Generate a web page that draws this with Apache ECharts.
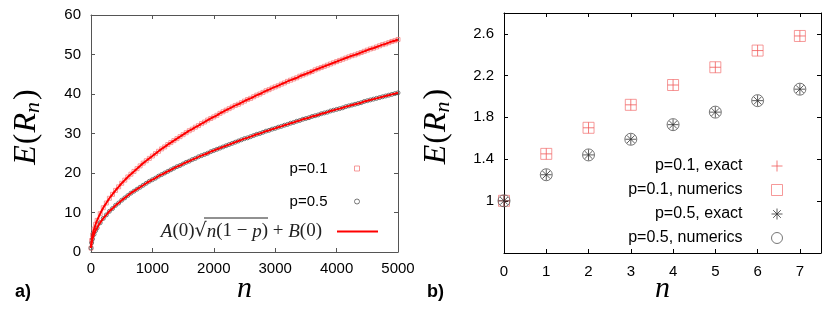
<!DOCTYPE html>
<html><head><meta charset="utf-8">
<script src="https://cdn.jsdelivr.net/npm/echarts@6/dist/echarts.min.js"></script>
<style>html,body{margin:0;padding:0;background:#fff}#c{width:831px;height:318px}</style>
</head><body><div id="c"></div>
<script>
// ---- panel a) data ----
const nVals = [0,10,25,50,75,100,150,200,250,300,350,400,450,500,550,600,650,700,750,800,850,900,950,1000,
1050,1100,1150,1200,1250,1300,1350,1400,1450,1500,1550,1600,1650,1700,1750,1800,1850,1900,1950,2000,
2050,2100,2150,2200,2250,2300,2350,2400,2450,2500,2550,2600,2650,2700,2750,2800,2850,2900,2950,3000,
3050,3100,3150,3200,3250,3300,3350,3400,3450,3500,3550,3600,3650,3700,3750,3800,3850,3900,3950,4000,
4050,4100,4150,4200,4250,4300,4350,4400,4450,4500,4550,4600,4650,4700,4750,4800,4850,4900,4950,5000];
const p01Vals = [1,2.9,4.3,5.8,7.0,8.0,9.7,11.2,12.4,13.6,14.6,15.6,16.5,17.4,18.2,19.0,19.7,20.4,21.1,21.8,22.5,23.1,23.7,24.3,
24.9,25.5,26.1,26.6,27.2,27.7,28.2,28.7,29.2,29.7,30.2,30.7,31.1,31.6,32.0,32.5,32.9,33.4,33.8,34.2,
34.6,35.1,35.5,35.9,36.3,36.7,37.1,37.4,37.8,38.2,38.6,38.9,39.3,39.7,40.0,40.4,40.8,41.1,41.5,41.8,
42.1,42.5,42.8,43.2,43.5,43.8,44.1,44.5,44.8,45.1,45.4,45.7,46.1,46.4,46.7,47.0,47.3,47.6,47.9,48.2,
48.5,48.8,49.1,49.4,49.7,49.9,50.2,50.5,50.8,51.1,51.4,51.6,51.9,52.2,52.5,52.7,53.0,53.3,53.5,53.8];
const p05Vals = [1,2.3,3.3,4.5,5.4,6.1,7.4,8.5,9.4,10.3,11.0,11.8,12.4,13.1,13.7,14.3,14.9,15.4,15.9,16.4,16.9,17.4,17.9,18.3,
18.7,19.2,19.6,20.0,20.4,20.8,21.2,21.6,21.9,22.3,22.7,23.0,23.4,23.7,24.1,24.4,24.7,25.0,25.4,25.7,
26.0,26.3,26.6,26.9,27.2,27.5,27.8,28.1,28.4,28.7,28.9,29.2,29.5,29.8,30.0,30.3,30.6,30.8,31.1,31.3,
31.6,31.8,32.1,32.3,32.6,32.8,33.1,33.3,33.6,33.8,34.0,34.3,34.5,34.7,35.0,35.2,35.4,35.7,35.9,36.1,
36.3,36.5,36.8,37.0,37.2,37.4,37.6,37.8,38.1,38.3,38.5,38.7,38.9,39.1,39.3,39.5,39.7,39.9,40.1,40.3];

// ---- panel b) data ----
const nSmall = [0,1,2,3,4,5,6,7];
const p01Exact = [1.0,1.45,1.70,1.92,2.11,2.28,2.44,2.58];
const p01Num   = [1.0,1.45,1.70,1.92,2.11,2.28,2.44,2.58];
const p05Exact = [1.0,1.25,1.44,1.59,1.73,1.85,1.96,2.07];
const p05Num   = [1.0,1.25,1.44,1.59,1.73,1.85,1.96,2.07];
const bYTicks = [1,1.4,1.8,2.2,2.6];
const bXTicks = [0,1,2,3,4,5,6,7];

const fitName = 'A(0)sqrt(n(1-p))+B(0)';
const pairs = (xs, ys) => xs.map((x, i) => [x, ys[i]]);

const SQ = 'path://M0,0L10,0L10,10L0,10Z';
const PLUS = 'path://M5,0L5,10M0,5L10,5';
const STAR = 'path://M5,0L5,10M0,5L10,5M1.5,1.5L8.5,8.5M8.5,1.5L1.5,8.5';
const SANS = 'Liberation Sans';
const SERIF = 'Liberation Serif';

const redSoft = '#f47f7f';
const redPlus = '#f05a5a';

function xAx(grid, min, max, extra, mirror, color) {
  return Object.assign({
    gridIndex: grid, type: 'value', min: min, max: max,
    position: mirror ? 'top' : 'bottom',
    axisLine: { show: true, onZero: false, lineStyle: { color: color, width: 1 } },
    axisTick: { show: true, inside: true, length: 4, lineStyle: { color: color } },
    axisLabel: { show: !mirror, color: '#000', fontFamily: SANS, fontSize: 15, margin: 9, formatter: v => String(v) },
    splitLine: { show: false }
  }, extra || {});
}
function yAx(grid, min, max, extra, mirror, color) {
  return Object.assign({
    gridIndex: grid, type: 'value', min: min, max: max,
    position: mirror ? 'right' : 'left',
    axisLine: { show: true, onZero: false, lineStyle: { color: color, width: 1 } },
    axisTick: { show: true, inside: true, length: 4, lineStyle: { color: color } },
    axisLabel: { show: !mirror, color: '#000', fontFamily: SANS, fontSize: 15, margin: 10, formatter: v => String(v) },
    splitLine: { show: false }
  }, extra || {});
}

const nameStyleX = { fontFamily: SERIF, fontStyle: 'italic', fontSize: 30, color: '#000' };
const nameStyleY = {
  fontFamily: SERIF, fontSize: 32, color: '#000', padding: [0, 0, 0, 14],
  rich: {
    i: { fontFamily: SERIF, fontStyle: 'italic', fontSize: 32, color: '#000' },
    r: { fontFamily: SERIF, fontSize: 32, color: '#000', padding: [0, 1, 0, 1] },
    s: { fontFamily: SERIF, fontStyle: 'italic', fontSize: 22, color: '#000', padding: [13, 1, 0, 0] }
  }
};
const yName = '{i|E}{r|(}{i|R}{s|n}{r|)}';

const chart = echarts.init(document.getElementById('c'), null, { renderer: 'canvas' });

const option = {
  animation: false,
  backgroundColor: '#fff',
  grid: [
    { left: 91, top: 15, width: 307, height: 237 },
    { left: 504, top: 13, width: 317, height: 240 }
  ],
  xAxis: [
    xAx(0, 0, 5000, { interval: 1000, name: 'n', nameLocation: 'middle', nameGap: 22, nameMoveOverlap: false, nameTextStyle: nameStyleX }, false, '#555'),
    xAx(0, 0, 5000, { interval: 1000 }, true, '#555'),
    xAx(1, 0, 7.5, {
      name: 'n', nameLocation: 'middle', nameGap: 21, nameMoveOverlap: false, nameTextStyle: nameStyleX,
      axisLabel: { show: true, color: '#000', fontFamily: SANS, fontSize: 15, margin: 11, customValues: bXTicks },
      axisTick: { show: true, inside: true, length: 4, lineStyle: { color: '#000' }, customValues: bXTicks }
    }, false, '#000'),
    xAx(1, 0, 7.5, {
      axisTick: { show: true, inside: true, length: 4, lineStyle: { color: '#000' }, customValues: bXTicks }
    }, true, '#000')
  ],
  yAxis: [
    yAx(0, 0, 60, { interval: 10, name: yName, nameLocation: 'middle', nameGap: 47, nameTextStyle: nameStyleY }, false, '#555'),
    yAx(0, 0, 60, { interval: 10 }, true, '#555'),
    yAx(1, 0.5, 2.8, {
      name: yName, nameLocation: 'middle', nameGap: 50, nameTextStyle: nameStyleY,
      axisLabel: { show: true, color: '#000', fontFamily: SANS, fontSize: 15, margin: 10, customValues: bYTicks },
      axisTick: { show: true, inside: true, length: 4, lineStyle: { color: '#000' }, customValues: bYTicks }
    }, false, '#000'),
    yAx(1, 0.5, 2.8, {
      axisTick: { show: true, inside: true, length: 4, lineStyle: { color: '#000' }, customValues: bYTicks }
    }, true, '#000')
  ],
  legend: [
    {
      orient: 'vertical', align: 'right', right: 471, top: 161, padding: 0,
      itemWidth: 5, itemHeight: 5, itemGap: 18, selectedMode: false,
      textStyle: { fontFamily: SANS, fontSize: 15, color: '#000', padding: [0, 22, 0, 0] },
      data: [
        { name: 'p=0.1', icon: SQ, itemStyle: { color: 'rgba(0,0,0,0)', borderColor: redSoft, borderWidth: 1 } },
        { name: 'p=0.5', icon: 'circle', itemStyle: { color: 'rgba(0,0,0,0)', borderColor: '#555', borderWidth: 1 } }
      ]
    },
    {
      orient: 'vertical', align: 'right', right: 453, top: 222, padding: 0,
      itemWidth: 41, itemHeight: 2, selectedMode: false,
      formatter: () => '{i|A}(0){r|√}{i|n}(1 − {i|p}) + {i|B}(0)',
      textStyle: {
        fontFamily: SERIF, fontSize: 19, color: '#222', padding: [0, 10, 0, 0],
        rich: {
          i: { fontFamily: SERIF, fontStyle: 'italic', fontSize: 19, color: '#222' },
          r: { fontFamily: 'DejaVu Serif', fontSize: 19, color: '#222' }
        }
      },
      data: [{ name: fitName, icon: 'rect', itemStyle: { color: '#ff0000', borderWidth: 0 } }]
    },
    {
      orient: 'vertical', align: 'right', right: 48, top: 158, padding: 0,
      itemWidth: 11, itemHeight: 11, itemGap: 8, selectedMode: false,
      textStyle: { fontFamily: SANS, fontSize: 16, color: '#000', padding: [0, 24, 0, 0] },
      data: [
        { name: 'p=0.1, exact', icon: PLUS, itemStyle: { color: 'rgba(0,0,0,0)', borderColor: redPlus, borderWidth: 1 } },
        { name: 'p=0.1, numerics', icon: SQ, itemStyle: { color: 'rgba(0,0,0,0)', borderColor: redSoft, borderWidth: 1 } },
        { name: 'p=0.5, exact', icon: STAR, itemStyle: { color: 'rgba(0,0,0,0)', borderColor: '#333', borderWidth: 1 } },
        { name: 'p=0.5, numerics', icon: 'circle', itemStyle: { color: 'rgba(0,0,0,0)', borderColor: '#555', borderWidth: 1 } }
      ]
    }
  ],
  graphic: [
    { type: 'text', left: 15, top: 283, style: { text: 'a)', font: 'bold 18px "Liberation Sans"', fill: '#000' } },
    { type: 'text', left: 427, top: 283, style: { text: 'b)', font: 'bold 18px "Liberation Sans"', fill: '#000' } },
    { type: 'line', shape: { x1: 204, y1: 218, x2: 268, y2: 218 }, style: { stroke: '#222', lineWidth: 1 } }
  ],
  series: [
    {
      name: 'p=0.1', type: 'scatter', xAxisIndex: 0, yAxisIndex: 0,
      symbol: SQ, symbolSize: 4,
      itemStyle: { color: 'rgba(0,0,0,0)', borderColor: redSoft, borderWidth: 1 },
      data: pairs(nVals, p01Vals), z: 2
    },
    {
      name: 'p=0.5', type: 'scatter', xAxisIndex: 0, yAxisIndex: 0,
      symbol: 'circle', symbolSize: 4,
      itemStyle: { color: 'rgba(0,0,0,0)', borderColor: '#555', borderWidth: 1 },
      data: pairs(nVals, p05Vals), z: 2
    },
    {
      name: fitName, type: 'line', xAxisIndex: 0, yAxisIndex: 0, symbol: 'none', smooth: true,
      lineStyle: { color: '#ff0000', width: 2 }, data: pairs(nVals, p01Vals), z: 3
    },
    {
      name: fitName, type: 'line', xAxisIndex: 0, yAxisIndex: 0, symbol: 'none', smooth: true,
      lineStyle: { color: '#ff0000', width: 2 }, data: pairs(nVals, p05Vals), z: 3
    },
    {
      name: 'p=0.1, numerics', type: 'scatter', xAxisIndex: 2, yAxisIndex: 2,
      symbol: SQ, symbolSize: 11,
      itemStyle: { color: 'rgba(0,0,0,0)', borderColor: redSoft, borderWidth: 1 },
      data: pairs(nSmall, p01Num)
    },
    {
      name: 'p=0.1, exact', type: 'scatter', xAxisIndex: 2, yAxisIndex: 2,
      symbol: PLUS, symbolSize: 11,
      itemStyle: { color: 'rgba(0,0,0,0)', borderColor: redPlus, borderWidth: 1 },
      data: pairs(nSmall, p01Exact)
    },
    {
      name: 'p=0.5, numerics', type: 'scatter', xAxisIndex: 2, yAxisIndex: 2,
      symbol: 'circle', symbolSize: 12,
      itemStyle: { color: 'rgba(0,0,0,0)', borderColor: '#555', borderWidth: 1 },
      data: pairs(nSmall, p05Num)
    },
    {
      name: 'p=0.5, exact', type: 'scatter', xAxisIndex: 2, yAxisIndex: 2,
      symbol: STAR, symbolSize: 11,
      itemStyle: { color: 'rgba(0,0,0,0)', borderColor: '#333', borderWidth: 1 },
      data: pairs(nSmall, p05Exact)
    }
  ]
};
chart.setOption(option);
</script>
</body></html>
